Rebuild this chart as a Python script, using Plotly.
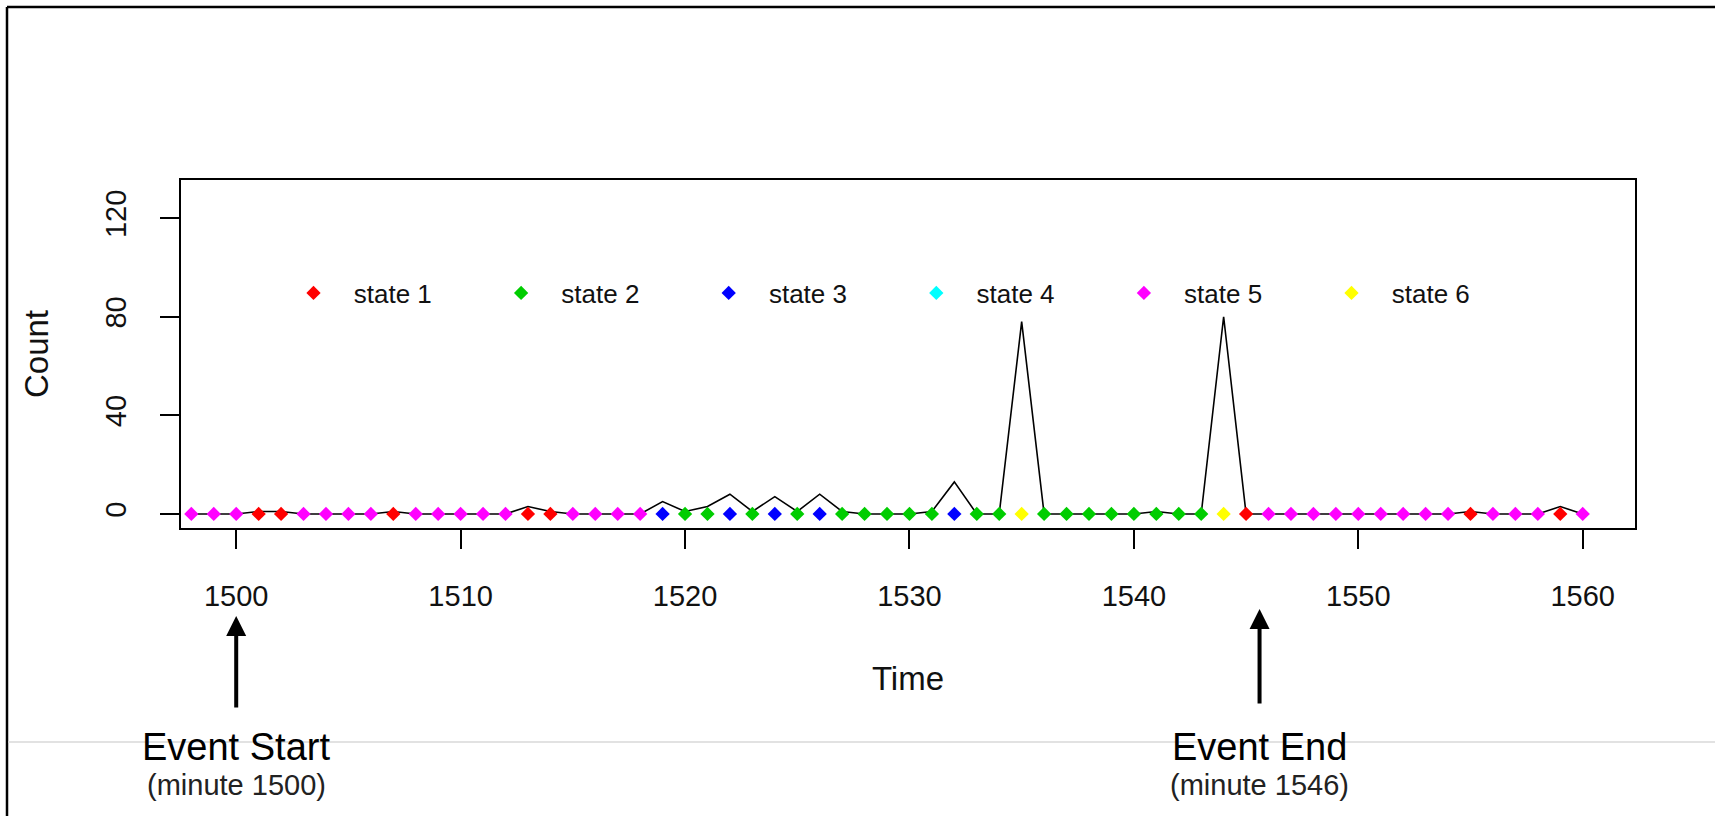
import plotly.graph_objects as go

# ---- data ----
minutes = list(range(1498, 1561))
counts = [0, 0, 0, 1, 1, 0, 0, 0, 0, 1,      # 1498-1507
          0, 0, 0, 0, 0, 3, 1, 0, 0, 0,      # 1508-1517
          0, 5, 1, 3, 8, 1, 7, 1, 8, 1,      # 1518-1527
          0, 0, 0, 1, 13, 0, 0, 78, 0, 0,    # 1528-1537
          0, 0, 0, 1, 0, 0, 80, 0, 0, 0,     # 1538-1547
          0, 0, 0, 0, 0, 0, 0, 1, 0, 0,      # 1548-1557
          0, 3, 0]                           # 1558-1560
states = [5, 5, 5, 1, 1, 5, 5, 5, 5, 1,
          5, 5, 5, 5, 5, 1, 1, 5, 5, 5,
          5, 3, 2, 2, 3, 2, 3, 2, 3, 2,
          2, 2, 2, 2, 3, 2, 2, 6, 2, 2,
          2, 2, 2, 2, 2, 2, 6, 1, 5, 5,
          5, 5, 5, 5, 5, 5, 5, 1, 5, 5,
          5, 1, 5]
state_names = ["state 1", "state 2", "state 3", "state 4", "state 5", "state 6"]
state_colors = ["#FF0000", "#00CD00", "#0000FF", "#00FFFF", "#FF00FF", "#FFFF00"]
x_ticks = [1500, 1510, 1520, 1530, 1540, 1550, 1560]
y_ticks = [0, 40, 80, 120]
event_minutes = [1500, 1545.6]
event_titles = ["Event Start", "Event End"]
event_notes = ["(minute 1500)", "(minute 1546)"]

FONT = "Liberation Sans, Arial, sans-serif"
INK = "#111111"

fig = go.Figure()

fig.add_trace(go.Scatter(
    x=minutes, y=counts, mode="lines",
    line=dict(color="black", width=1.6),
    showlegend=False, hoverinfo="skip"))

for i, (name, col) in enumerate(zip(state_names, state_colors)):
    sx = [m for m, s in zip(minutes, states) if s == i + 1]
    sy = [0] * len(sx)
    if not sx:  # state with no observations: keep a legend entry
        sx, sy = [None], [None]
    fig.add_trace(go.Scatter(
        x=sx, y=sy, mode="markers", name="\u2002\u00a0" + name,
        marker=dict(symbol="diamond", size=11, color=col, line=dict(width=0))))

L, R, T, B = 181, 80, 180, 288
W, H = 1715, 816
pw, ph = W - L - R, H - T - B


def px_x(px):
    return (px - L) / pw


def px_y(py):
    return (H - B - py) / ph


annotations = []
tip_y = [616, 609]
tail_len = [93, 96]
for xm, ty, tl in zip(event_minutes, tip_y, tail_len):
    annotations.append(dict(
        x=xm, xref="x", y=px_y(ty), yref="paper", text="",
        showarrow=True, ax=0, ay=tl, arrowhead=2, arrowsize=1.0,
        arrowwidth=4, arrowcolor="black", standoff=0, startstandoff=0))
for xm, t1, t2 in zip(event_minutes, event_titles, event_notes):
    annotations.append(dict(
        x=xm, xref="x", y=px_y(747), yref="paper", text=t1,
        showarrow=False, xanchor="center", yanchor="middle",
        font=dict(family=FONT, size=38, color="black")))
    annotations.append(dict(
        x=xm, xref="x", y=px_y(785), yref="paper", text=t2,
        showarrow=False, xanchor="center", yanchor="middle",
        font=dict(family=FONT, size=29, color="#222222")))

shapes = [
    dict(type="line", xref="paper", yref="paper",
         x0=px_x(7), x1=px_x(W), y0=px_y(7), y1=px_y(7),
         line=dict(color="black", width=2.5)),
    dict(type="line", xref="paper", yref="paper",
         x0=px_x(7), x1=px_x(7), y0=px_y(7), y1=px_y(H),
         line=dict(color="black", width=2.5)),
    dict(type="line", xref="paper", yref="paper",
         x0=px_x(8), x1=px_x(W), y0=px_y(742), y1=px_y(742),
         line=dict(color="#d9d9d9", width=1.5)),
]

fig.update_layout(
    width=W, height=H,
    margin=dict(l=L, r=R, t=T, b=B, pad=0),
    paper_bgcolor="white", plot_bgcolor="white",
    font=dict(family=FONT, color=INK),
    showlegend=True,
    legend=dict(orientation="h", x=px_x(293.5), y=px_y(293),
                xanchor="left", yanchor="middle",
                bgcolor="rgba(0,0,0,0)", borderwidth=0,
                entrywidth=162.6, entrywidthmode="pixels",
                font=dict(family=FONT, size=26, color=INK)),
    annotations=annotations,
    shapes=shapes,
    hovermode=False,
)

fig.update_xaxes(
    range=[1497.54, 1562.33], tickvals=x_ticks, ticktext=[str(v) for v in x_ticks],
    showgrid=False, zeroline=False,
    showline=True, linecolor="black", linewidth=2, mirror=True,
    ticks="outside", ticklen=19, tickwidth=2, tickcolor="black",
    ticklabelstandoff=22,
    tickfont=dict(family=FONT, size=29, color=INK),
    title=dict(text="Time", standoff=56, font=dict(family=FONT, size=33, color=INK)))

fig.update_yaxes(
    range=[-5.7, 135.5], tickvals=y_ticks, ticktext=[str(v) for v in y_ticks],
    showgrid=False, zeroline=False,
    showline=True, linecolor="black", linewidth=2, mirror=True,
    ticks="outside", ticklen=19, tickwidth=2, tickcolor="black",
    tickangle=-90, ticklabelstandoff=22,
    tickfont=dict(family=FONT, size=29, color=INK),
    title=dict(text="Count", standoff=42, font=dict(family=FONT, size=33, color=INK)))

fig.write_html("out.html", config={"displayModeBar": False},
               post_script="document.body.style.margin='0';")
